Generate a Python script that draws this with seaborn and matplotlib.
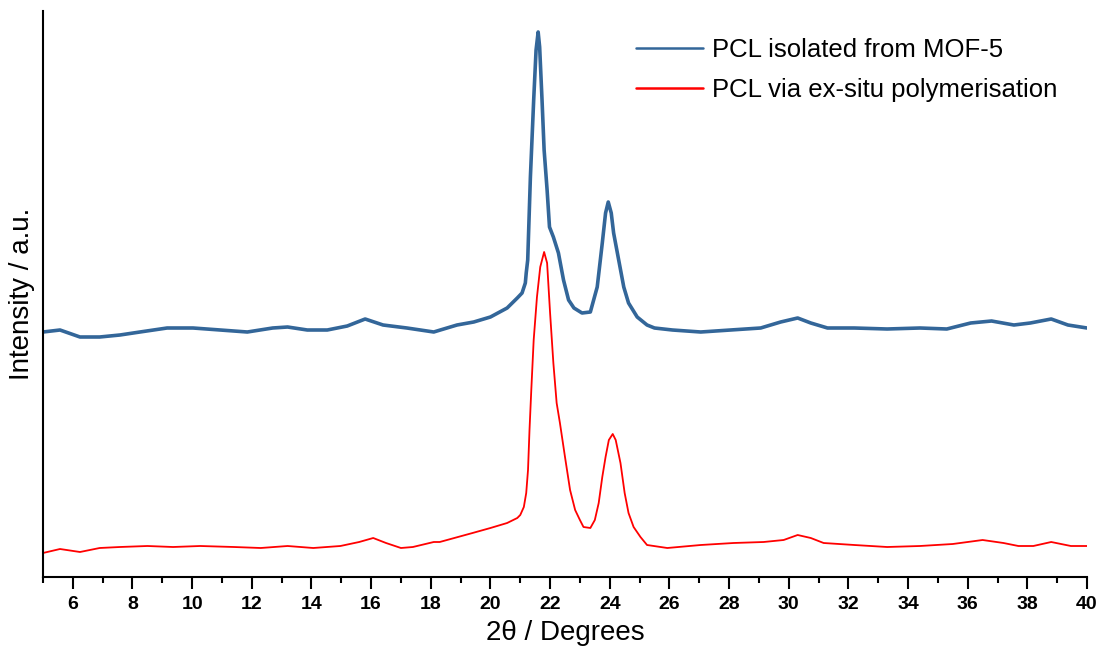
import numpy as np
import pandas as pd
import matplotlib
matplotlib.use("Agg")
from matplotlib import pyplot as plt
from matplotlib.ticker import MultipleLocator
import seaborn as sns

# 2theta positions and intensities (a.u.)
two_theta_mof = [5.0, 5.57, 6.24, 6.9, 7.58, 8.25, 9.16, 10.03, 10.94, 11.85, 12.7, 13.2,
                 13.86, 14.53, 15.2, 15.8, 16.4, 17.2, 18.1, 18.32, 18.88, 19.44, 20.0,
                 20.56, 20.9, 21.06, 21.17, 21.2, 21.25, 21.34, 21.45, 21.53, 21.6, 21.65,
                 21.73, 21.8, 21.9, 21.98, 22.11, 22.28, 22.45, 22.62, 22.8, 23.07, 23.35,
                 23.58, 23.75, 23.86, 23.95, 24.05, 24.13, 24.3, 24.47, 24.63, 24.92, 25.25,
                 25.5, 26.1, 27.05, 28.05, 29.06, 29.73, 30.3, 30.74, 31.3, 32.2, 33.3,
                 34.4, 35.3, 36.1, 36.8, 37.55, 38.1, 38.8, 39.36, 40.0]
intensity_mof = [245, 247, 240, 240, 242, 245, 249, 249, 247, 245, 249, 250,
                 247, 247, 251, 258, 252, 249, 245, 247, 252, 255, 260,
                 269, 279, 284, 294, 304, 317, 400, 477, 527, 545, 530,
                 477, 427, 387, 350, 340, 324, 297, 277, 269, 264, 265,
                 290, 334, 364, 375, 364, 344, 317, 290, 274, 260, 252,
                 249, 247, 245, 247, 249, 255, 259, 254, 249, 249, 248,
                 249, 248, 254, 256, 252, 254, 258, 252, 249]

two_theta_exsitu = [5.0, 5.57, 6.24, 6.9, 7.58, 8.5, 9.36, 10.27, 11.4, 12.3, 13.2, 14.06,
                    14.97, 15.6, 16.07, 16.5, 17.0, 17.4, 18.1, 18.3, 19.4, 20.0, 20.56,
                    20.9, 21.0, 21.12, 21.2, 21.26, 21.31, 21.37, 21.45, 21.56, 21.67, 21.8,
                    21.9, 22.0, 22.11, 22.22, 22.33, 22.5, 22.67, 22.84, 23.0, 23.12, 23.35,
                    23.5, 23.63, 23.75, 23.86, 23.97, 24.1, 24.2, 24.36, 24.5, 24.63, 24.8,
                    25.03, 25.25, 25.93, 27.05, 28.15, 29.16, 29.83, 30.3, 30.74, 31.17, 32.2,
                    33.3, 34.4, 35.5, 36.5, 37.2, 37.7, 38.2, 38.8, 39.46, 40.0]
intensity_exsitu = [24, 28, 25, 29, 30, 31, 30, 31, 30, 29, 31, 29,
                    31, 35, 39, 34, 29, 30, 35, 35, 44, 49, 54,
                    59, 62, 70, 84, 107, 147, 187, 237, 280, 310, 325,
                    314, 264, 214, 174, 154, 120, 87, 67, 57, 50, 49,
                    57, 74, 100, 120, 137, 143, 137, 114, 84, 64, 50,
                    40, 32, 29, 32, 34, 35, 37, 42, 39, 34, 32,
                    30, 31, 33, 37, 34, 31, 31, 35, 31, 31]

labels = ["PCL isolated from MOF-5", "PCL via ex-situ polymerisation"]
colors = ["#336699", "#FF0000"]

df = pd.concat([
    pd.DataFrame({"two_theta": two_theta_mof, "intensity": intensity_mof, "sample": labels[0]}),
    pd.DataFrame({"two_theta": two_theta_exsitu, "intensity": intensity_exsitu, "sample": labels[1]}),
])

sns.set_style("ticks")
plt.rcParams['font.family'] = ['Liberation Sans', 'DejaVu Sans']
plt.rcParams['text.color'] = 'black'
plt.rcParams['axes.labelcolor'] = 'black'
plt.rcParams['xtick.color'] = 'black'

fig = plt.figure(figsize=(11.01, 6.53), dpi=100)
ax = fig.add_axes([43 / 1101, 76 / 653, 1044 / 1101, 566 / 653])

sns.lineplot(data=df[df["sample"] == labels[0]], x="two_theta", y="intensity",
             color=colors[0], linewidth=2.6, ax=ax, label=labels[0])
sns.lineplot(data=df[df["sample"] == labels[1]], x="two_theta", y="intensity",
             color=colors[1], linewidth=1.3, ax=ax, label=labels[1])

ax.set_xlim(5, 40)
ax.set_ylim(0, 566)
ax.xaxis.set_major_locator(MultipleLocator(2))
ax.xaxis.set_minor_locator(MultipleLocator(1))
ax.set_yticks([])

for side in ["top", "right"]:
    ax.spines[side].set_visible(False)
for side in ["left", "bottom"]:
    ax.spines[side].set_linewidth(1.5)
    ax.spines[side].set_color("black")

ax.tick_params(axis="x", which="major", length=8.5, width=1.5, labelsize=14, pad=5)
ax.tick_params(axis="x", which="minor", length=4.5, width=1.5)
for t in ax.get_xticklabels():
    t.set_fontweight("bold")

ax.set_xlabel("2θ / Degrees", fontsize=20, labelpad=5)
ax.set_ylabel("Intensity / a.u.", fontsize=20, labelpad=6)

leg = ax.legend(loc="upper left", bbox_to_anchor=(613 / 1101, 1 - 15 / 653),
                bbox_transform=fig.transFigure, frameon=False,
                fontsize=18.5, handlelength=2.6, handletextpad=0.35, labelspacing=0.63)
for line in leg.get_lines():
    line.set_linewidth(1.8)

plt.savefig("out.png", dpi=100)
plt.close()
